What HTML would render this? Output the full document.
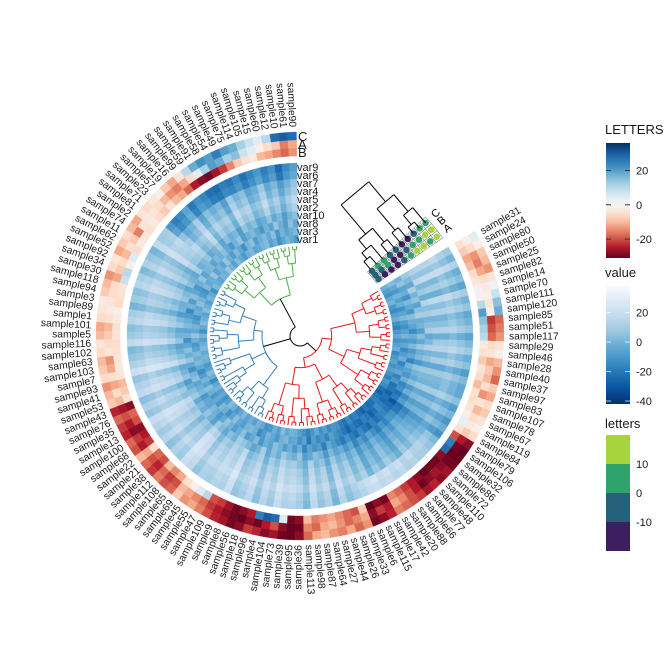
<!DOCTYPE html>
<html><head><meta charset="utf-8"><style>
html,body{margin:0;padding:0;background:#fff}
svg{display:block;font-family:"Liberation Sans",sans-serif}
</style></head><body>
<svg id="chart" width="672" height="672" viewBox="0 0 672 672">
<g id="cells"></g>
<g id="dend"></g>
<g id="mini"></g>
<g id="labels" font-size="10.3" fill="#1a1a1a"></g>
<g id="rowlabels" font-size="11" fill="#1a1a1a"></g>
<g id="legend"></g>
</svg>
<script>
const samples=[31,24,80,50,25,82,14,70,111,120,85,51,117,29,46,28,40,37,97,83,107,78,67,119,84,79,106,32,86,72,110,48,77,66,88,20,42,17,115,6,33,26,44,27,64,87,98,113,36,95,39,73,104,4,96,18,56,8,9,109,47,55,45,69,65,108,112,38,21,22,68,100,13,35,76,43,53,41,93,7,103,63,102,116,5,101,1,89,3,94,118,30,34,92,52,62,11,74,2,81,71,23,57,19,16,99,59,91,58,54,49,75,114,105,15,60,12,10,61,90];
const varNames=["var1","var3","var8","var10","var2","var5","var4","var7","var6","var9"];
const var1=[-10,-15,-20,-12,-8,-18,-22,-15,-10,-20,-25,-18,-12,-20,-15,-10,-22,-18,-14,-20,-15,-20,-25,-18,-22,-30,-35,-28,-25,-30,-32,-28,-35,-30,-25,-28,-22,-30,-26,-20,-18,-22,-15,-20,-12,-18,-25,-20,-15,-10,-8,-12,-5,-15,-10,-18,-20,-12,-8,-15,-10,-14,-6,-12,-18,-10,-5,-15,-20,-12,-15,-8,-12,-22,-10,-5,-14,-18,-10,-8,-12,-6,-10,-15,-8,-20,-12,-5,-10,-14,-5,-10,-15,-8,-12,-20,-6,-10,-14,-8,-10,-2,-8,-15,-5,-12,-18,-10,-6,-14,-12,-8,-5,-15,-10,-20,-14,-8,-12,-18].map(v=>v+8);
const var3=[-5,-12,-18,-8,-15,-10,-20,-14,-6,-16,-20,-14,-8,-18,-12,-22,-16,-10,-24,-18,-12,-25,-18,-30,-28,-35,-30,-32,-26,-22,-30,-35,-28,-25,-32,-30,-26,-34,-28,-24,-20,-15,-24,-18,-22,-16,-28,-14,-20,-12,-14,-6,-10,-18,-12,-8,-16,-22,-10,-6,-8,-16,-12,-4,-14,-20,-10,-6,-18,-12,-18,-10,-4,-14,-8,-16,-22,-12,-6,-10,-6,-14,-18,-10,-2,-12,-8,-16,-20,-10,-12,-4,-8,-16,-20,-6,-12,-10,-2,-14,-8,-14,-2,-10,-16,-6,-12,-20,-8,-4,-16,-10,-6,-12,-4,-18,-8,-14,-10,-6].map(v=>v+8);
const var8=[-8,-2,-14,-10,-20,-6,-12,-18,-4,-10,-14,-22,-10,-16,-6,-18,-12,-24,-8,-14,-18,-10,-24,-20,-30,-26,-38,-32,-28,-24,-26,-30,-24,-32,-28,-22,-30,-26,-20,-28,-22,-18,-12,-26,-16,-20,-14,-24,-10,-18,-10,-16,-8,-4,-14,-10,-18,-6,-12,-16,-4,-10,-16,-8,-2,-12,-18,-10,-6,-14,-12,-18,-6,-10,-14,-4,-8,-20,-12,-2,-10,-4,-12,-20,-8,-14,-6,-10,-16,-22,-8,-16,-4,-12,-18,-10,-2,-14,-8,-6,-14,-6,-10,-4,-12,-18,-8,-2,-16,-10,-6,-12,-18,-8,-14,-2,-10,-16,-4,-12].map(v=>v+8);
const var10=[0,-6,-12,4,-8,-2,-14,-4,2,-10,-8,-16,-4,-12,0,-10,-6,-18,-2,-8,-12,-4,-18,-10,-22,-16,-30,-28,-20,-18,-24,-18,-26,-20,-14,-22,-16,-24,-12,-18,-10,-14,-6,-18,-8,-4,-12,-16,-2,-10,-6,0,-10,-4,-12,2,-8,-14,-6,-2,2,-8,-4,-12,-6,0,-14,-8,-2,-10,-6,-12,0,-4,-10,-16,-2,-8,-12,4,-4,-10,-14,-2,-8,-12,0,-6,-16,-8,-10,-2,-6,-14,-4,-8,-12,2,-10,-6,-2,-12,-8,0,-14,-4,-10,-6,-16,-2,-8,-4,-14,-10,-2,-12,-6,-16,-8,-4].map(v=>v+8);
const var2=[4,-2,8,-6,0,-10,6,-4,2,-8,-4,2,-12,-6,4,-8,-2,-14,0,-6,-8,0,-12,-6,-16,-10,-24,-20,-14,-10,-18,-12,-20,-14,-8,-16,-10,-18,-6,-12,-4,-8,0,-12,-2,-6,4,-10,-4,2,0,6,-4,2,-8,4,-2,-6,8,0,6,-2,2,-6,4,8,-4,0,-8,2,-2,4,8,-4,0,-8,6,2,-6,10,2,-4,-8,6,-2,-6,4,0,-10,-2,-6,4,0,-8,2,-4,-10,6,-2,0,4,-6,-2,8,-8,2,-4,0,-10,6,-2,2,-8,-4,6,-6,0,-10,-2,4].map(v=>v+8);
const var5=[10,2,14,-2,6,-6,12,0,8,-4,0,8,-6,4,10,-2,6,-8,4,-2,-4,6,-8,0,-10,-4,-14,-10,-6,-2,-8,-4,-12,-6,0,-8,-2,-10,2,-4,6,0,10,-4,8,2,12,-2,6,10,8,14,4,10,0,12,6,2,16,8,12,6,10,2,14,18,4,8,0,10,6,12,16,4,8,0,14,10,2,18,10,4,0,14,6,2,12,8,-2,6,2,12,8,0,10,4,-2,14,6,8,12,2,6,16,0,10,4,8,-2,14,6,10,0,4,14,2,8,-2,6,12].map(v=>v+4);
const var4=[14,6,18,2,10,-2,16,4,12,0,4,12,-2,8,14,2,10,-4,8,2,0,10,-4,4,-6,2,-8,-4,0,4,-2,4,-6,0,6,-2,4,-4,8,2,12,6,16,2,14,8,18,4,12,16,14,20,10,16,6,18,12,8,22,14,18,12,16,8,20,24,10,14,6,16,12,18,22,10,14,6,20,16,8,24,16,10,6,20,12,8,18,14,4,12,8,18,14,6,16,10,4,20,12,14,10,0,4,14,-2,8,2,6,-4,12,4,8,-2,2,12,0,6,-4,4,10];
const var7=[16,8,20,6,12,2,18,8,14,4,8,14,2,10,16,6,12,0,10,4,4,12,0,8,-2,6,-4,0,4,8,2,8,-2,4,10,2,8,0,12,6,16,10,20,6,18,12,22,8,16,20,18,24,14,20,10,22,16,12,26,18,20,16,18,12,22,26,14,18,10,20,14,20,24,12,18,10,22,18,12,26,18,12,8,22,14,10,20,16,6,14,10,20,16,8,18,12,6,22,14,16,6,-4,0,10,-6,4,-2,2,-8,8,0,4,-6,-2,8,-4,2,-8,0,6];
const var6=[12,4,16,2,8,-2,14,4,10,0,4,10,-2,6,12,2,8,-4,6,0,0,8,-4,4,-6,2,-8,6,10,14,12,18,14,20,16,22,18,24,20,16,12,6,16,2,14,8,18,4,12,16,14,20,10,16,6,18,12,8,22,14,16,12,14,8,18,22,10,14,6,16,10,16,20,8,14,6,18,14,8,22,14,8,4,18,10,6,16,12,2,10,6,16,12,4,14,8,2,18,10,12,-6,-14,-10,-2,-16,-8,-12,-18,-20,-14,-16,-10,-18,-12,-6,-14,-8,-20,-10,-4];
const var9=[8,0,12,-2,4,-6,10,0,6,-4,0,6,-6,2,8,-2,4,-8,2,-4,-4,4,-8,0,-10,-2,-12,2,6,10,10,14,12,16,14,18,16,20,18,14,10,4,14,0,12,6,16,2,10,14,12,18,8,14,4,16,10,6,20,12,14,10,12,6,16,20,8,12,4,14,8,14,18,6,12,4,16,12,6,20,12,6,2,16,8,4,14,10,0,8,4,14,10,2,12,6,0,16,8,10,-10,-18,-14,-6,-20,-12,-16,-22,-24,-18,-20,-14,-22,-16,-10,-18,-12,-24,-14,-8];
const lettersB=[-5,-8,-12,-10,-6,-4,2,-2,10,20,15,12,10,-3,-5,-8,-4,-6,-10,-5,-6,-4,-2,3,-5,-20,25,28,-28,-30,-30,-32,-28,-25,-22,-18,-15,-30,-28,-32,-8,-20,-18,-15,-12,-14,-16,-10,-28,-30,5,28,30,25,-25,-28,-30,-26,-22,-20,10,5,-2,-5,-12,-15,-10,-20,-18,-5,-22,-25,-28,-20,-18,-28,-5,-8,-10,-4,-3,-4,-5,-6,-4,-5,-3,-2,-6,-5,-4,8,10,-2,5,-6,-3,-4,-5,-3,-6,-8,-5,-10,-12,-18,-25,-28,-30,-26,-22,-15,-8,-5,-3,-10,-12,-15,-18,-14];
const lettersA=[-2,-6,-14,-16,-12,-6,-3,-2,-4,-2,-22,-20,-18,-6,-4,-12,-8,-10,-6,-14,-4,-10,-6,-3,-8,-25,-30,-32,-30,-28,-26,-28,-30,-25,-20,-15,-12,-25,-22,-28,-12,-15,-18,-14,-10,-12,-18,-15,-30,-32,-28,-20,-25,-30,-28,-32,-30,-28,-25,-22,-18,-15,-12,-10,-20,-22,-18,-24,-20,-12,-25,-22,-28,-25,-20,-26,-10,-6,-12,-5,-12,-14,-4,-6,-8,-10,-5,-3,-4,-6,-6,-12,-8,-6,-10,-5,-8,-16,-4,-3,-4,-6,-10,-14,-16,-12,-6,4,12,20,18,12,15,8,4,-2,-6,-8,-16,-12];
const lettersC=[4,-2,-8,-10,-14,-4,2,8,15,18,-18,-16,-14,-4,-2,-10,-14,-18,-8,-12,-6,-8,-4,-2,-6,-28,-32,-34,-30,-26,-28,-24,-26,-22,-20,-18,-16,-24,-28,-30,-14,-18,-12,-16,-14,-10,-12,-18,-28,-32,-30,-26,-28,-24,-22,-28,-30,-26,-24,-20,-16,-12,-14,-8,-18,-20,-16,-22,-18,-10,-20,-18,-24,-22,-18,-24,-8,-10,-14,-6,-8,-10,-6,-4,-10,-12,-6,-4,-3,-8,-10,-14,-6,-4,-12,-8,-6,-10,-12,-4,-6,-4,-2,-8,-12,-4,10,18,22,20,25,20,18,12,8,4,10,28,30,28];
const miniCols=["C","B","A"];
const miniValues=[[-5,-5,-5],[5,-5,-15],[5,5,-15],[-5,-15,-15],[-5,-15,-5],[-15,-5,5],[-15,5,15],[-5,5,15],[5,15,5],[5,15,15]];
const valueTicks=[20,0,-20,-40];
const letterTicks=[20,0,-20];
const catTicks=[10,0,-10];

const NS="http://www.w3.org/2000/svg";
const cx=300,cy=336,a0=59,step=2.5,rIn=93,rowH=8,rRing=180,ringH=8,rLab=209;
const angle=i=>a0+step*i;
function pt(r,a){const t=a*Math.PI/180;return [cx+r*Math.sin(t),cy-r*Math.cos(t)];}
function sector(r0,r1,s,e){const p1=pt(r1,s),p2=pt(r1,e),p3=pt(r0,e),p4=pt(r0,s);return `M${p1[0]},${p1[1]}A${r1},${r1} 0 0 1 ${p2[0]},${p2[1]}L${p3[0]},${p3[1]}A${r0},${r0} 0 0 0 ${p4[0]},${p4[1]}Z`;}
function hex(c){return [parseInt(c.slice(1,3),16),parseInt(c.slice(3,5),16),parseInt(c.slice(5,7),16)];}
function interp(stops,t){t=Math.max(0,Math.min(1,t));const n=stops.length-1,f=t*n,i=Math.min(n-1,Math.floor(f)),u=f-i;const a=hex(stops[i]),b=hex(stops[i+1]);return `rgb(${a.map((x,k)=>Math.round(x+(b[k]-x)*u)).join(",")})`;}
const blues=["#08306b","#08519c","#2171b5","#4292c6","#6baed6","#9ecae1","#c6dbef","#deebf7","#f7fbff"];
const vMin=-42,vMax=38;
const blueColor=v=>interp(blues,(v-vMin)/(vMax-vMin));
const rdRed=["#f7f7f7","#fddbc7","#f4a582","#d6604d","#b2182b","#67001f"];
const rdBlue=["#f7f7f7","#d1e5f0","#92c5de","#4393c3","#2166ac","#053061"];
const lMin=-31,lMax=36;
const rdbu=v=>v<0?interp(rdRed,v/lMin):interp(rdBlue,v/lMax);
const vir={"-15":"#3b1f5e","-5":"#26617a","5":"#2fa36b","15":"#a7d43a"};
function el(tag,attrs,parent){const e=document.createElementNS(NS,tag);for(const k in attrs)e.setAttribute(k,attrs[k]);parent.appendChild(e);return e;}

const cells=document.getElementById('cells');
const vars=[var1,var3,var8,var10,var2,var5,var4,var7,var6,var9];
vars.forEach((arr,r)=>{arr.forEach((v,i)=>{const c=blueColor(v);const p=el('path',{d:sector(rIn+r*rowH,rIn+(r+1)*rowH,angle(i),angle(i+1)),fill:c,stroke:c,'stroke-width':0.3},cells);

});});
const rings=[lettersB,lettersA,lettersC],ringNames=["B","A","C"];
rings.forEach((arr,r)=>{arr.forEach((v,i)=>{const c=rdbu(v);const p=el('path',{d:sector(rRing+r*ringH,rRing+(r+1)*ringH,angle(i),angle(i+1)),fill:c,stroke:c,'stroke-width':0.3},cells);

});});

const lab=document.getElementById('labels');
samples.forEach((s,i)=>{const a=angle(i+0.5);const p=pt(rLab,a);let rot,anc;if(a<180){rot=a-90;anc='start';}else{rot=a+90;anc='end';}
const t=el('text',{x:p[0],y:p[1],transform:`rotate(${rot},${p[0]},${p[1]})`,'text-anchor':anc,'dominant-baseline':'central'},lab);t.textContent='sample'+s;

});

const rl=document.getElementById('rowlabels');
varNames.forEach((n,r)=>{const t=el('text',{x:297,y:cy-(rIn+(r+0.5)*rowH)+4},rl);t.textContent=n;

});
ringNames.forEach((n,r)=>{const t=el('text',{x:298,y:cy-(rRing+(r+0.5)*ringH)+5,'font-size':13},rl);t.textContent=n;

});

const dg=document.getElementById('dend');
function line(r1,r2,a,col){const p=pt(r1,a),q=pt(r2,a);el('line',{x1:p[0],y1:p[1],x2:q[0],y2:q[1],stroke:col,'stroke-width':1},dg);}
function arc(r,s,e,col){if(Math.abs(e-s)<0.01)return;const p=pt(r,s),q=pt(r,e);el('path',{d:`M${p[0]},${p[1]}A${r},${r} 0 ${e-s>180?1:0} 1 ${q[0]},${q[1]}`,fill:'none',stroke:col,'stroke-width':1},dg);}
function build(lo,hi,col,rootR){if(lo===hi)return {a:angle(lo+0.5),r:90};const mid=Math.floor((lo+hi)/2+((lo*7+hi*3)%3-1)*0.5);const m=Math.max(lo,Math.min(hi-1,mid));
const L=build(lo,m,col),R=build(m+1,hi,col);const n=hi-lo+1;const r=rootR!==undefined?rootR:Math.min(L.r,R.r)-Math.max(3,7*Math.log2(n)/2);
line(L.r,r,L.a,col);line(R.r,r,R.a,col);arc(r,L.a,R.a,col);return {a:(L.a+R.a)/2,r:r};}
const red=build(0,57,'#e41a1c',22),blu=build(58,96,'#377eb8',38),grn=build(97,119,'#4daf4a',42);
line(red.r,10,red.a,'#000');line(blu.r,10,blu.a,'#000');line(grn.r,10,grn.a,'#000');arc(10,red.a,grn.a,'#000');

const mini=document.getElementById('mini');
const mA=46.5,mW=3;
miniValues.forEach((row,r)=>{row.forEach((v,c)=>{const s=mA+c*mW,e=s+mW;const p=el('path',{d:sector(rIn+r*rowH,rIn+(r+1)*rowH,s,e),fill:'#fff',stroke:'#888','stroke-width':0.6},mini);


const q=pt(rIn+(r+0.5)*rowH,(s+e)/2);const ci=el('circle',{cx:q[0],cy:q[1],r:3.3,fill:vir[String(v)]},mini);

});});
miniCols.forEach((n,c)=>{const a=mA+(c+0.5)*mW;const q=pt(rIn+10*rowH+6,a);const t=el('text',{x:q[0],y:q[1],transform:`rotate(${a-90},${q[0]},${q[1]})`,'font-size':11,'dominant-baseline':'central'},mini);t.textContent=n;

});
const u=[Math.sin(50*Math.PI/180),-Math.cos(50*Math.PI/180)],vv=[-Math.cos(50*Math.PI/180),-Math.sin(50*Math.PI/180)];
const leafPos=r=>pt(rIn+(r+0.5)*rowH,mA);
function mp(r,h){const p=leafPos(0),d=(r)*rowH;return [p[0]+u[0]*d+vv[0]*h,p[1]+u[1]*d+vv[1]*h];}
function mline(p,q){el('line',{x1:p[0],y1:p[1],x2:q[0],y2:q[1],stroke:'#000','stroke-width':1},mini);}
function mnode(a,b,h){const n={pos:(a.pos+b.pos)/2,h:h};mline(mp(a.pos,a.h),mp(a.pos,h));mline(mp(b.pos,b.h),mp(b.pos,h));mline(mp(a.pos,h),mp(b.pos,h));return n;}
const lf=i=>({pos:i,h:0});
const na=mnode(lf(0),lf(1),10),nb=mnode(na,lf(2),18),nc=mnode(lf(3),lf(4),12),nd=mnode(nb,nc,30);
const ne=mnode(lf(5),lf(6),14),nf=mnode(lf(7),lf(8),8),ng=mnode(nf,lf(9),20),nk=mnode(ne,ng,42),root=mnode(nd,nk,68);

const lg=document.getElementById('legend');
const defs=el('defs',{},lg);
function grad(id,cols){const g=el('linearGradient',{id:id,x1:0,y1:1,x2:0,y2:0},defs);cols.forEach((c,i)=>el('stop',{offset:i/(cols.length-1),'stop-color':c},g));}
const gl=[];for(let k=0;k<=20;k++){gl.push(rdbu(lMin+(lMax-lMin)*k/20));}grad('gL',gl);
grad('gV',blues);
function title(t,y,name){const e=el('text',{x:605,y:y,'font-size':13,fill:'#1a1a1a'},lg);e.textContent=t;}
title('LETTERS',134,'legend-title-letters-upper');
const b1=el('rect',{x:606,y:143,width:24,height:115,fill:'url(#gL)'},lg);
const y1=v=>258-(v-lMin)/(lMax-lMin)*115;
letterTicks.forEach(v=>{const y=y1(v);el('line',{x1:606,x2:611,y1:y,y2:y,stroke:'#333'},lg);el('line',{x1:625,x2:630,y1:y,y2:y,stroke:'#333'},lg);const t=el('text',{x:636,y:y+4,'font-size':11,fill:'#1a1a1a'},lg);t.textContent=v;});
title('value',277,'legend-title-value');
const b2=el('rect',{x:606,y:286,width:24,height:118,fill:'url(#gV)'},lg);
const y2=v=>404-(v-vMin)/(vMax-vMin)*118;
valueTicks.forEach(v=>{const y=y2(v);el('line',{x1:606,x2:611,y1:y,y2:y,stroke:'#fff','stroke-opacity':0.7},lg);el('line',{x1:625,x2:630,y1:y,y2:y,stroke:'#fff','stroke-opacity':0.7},lg);const t=el('text',{x:636,y:y+4,'font-size':11,fill:'#1a1a1a'},lg);t.textContent=v;});
title('letters',428,'legend-title-letters');
["15","5","-5","-15"].forEach((k,i)=>{const r=el('rect',{x:606,y:435+i*29,width:24,height:29,fill:vir[k]},lg);});
catTicks.forEach((v,i)=>{const t=el('text',{x:636,y:468+i*29,'font-size':11,fill:'#1a1a1a'},lg);t.textContent=v;});
</script>
</body></html>
